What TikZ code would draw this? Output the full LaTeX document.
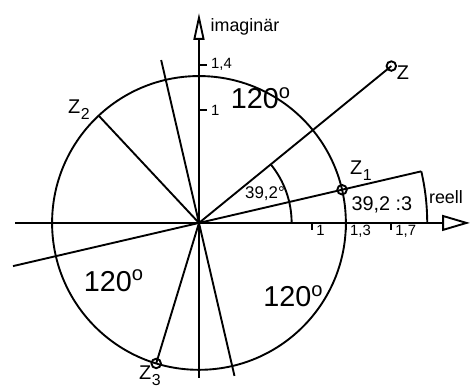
\documentclass[tikz,border=0pt]{standalone}
\usepackage{fontspec}
\setmainfont{Liberation Sans}
\usetikzlibrary{arrows.meta}
\newcommand{\zlab}[1]{Z\kern0.3pt\raisebox{-3pt}{\fontsize{8}{9}\selectfont #1}}
\begin{document}
\begin{tikzpicture}[x=2cm, y=2cm, line width=0.95pt, every node/.style={inner sep=0pt, font=\fontsize{10}{11}\selectfont},
    reachse/.style={-{Triangle[open, length=14pt, width=8pt, line width=0.95pt]}},
    imachse/.style={-{Triangle[open, length=13.5pt, width=5.5pt, line width=0.95pt]}},
    winkel/.style={font=\fontsize{14.5}{16}\selectfont},
    skala/.style={font=\fontsize{7.5}{8}\selectfont}]
        \useasboundingbox (-1.761,-1.460) rectangle (2.434,1.973);
        \coordinate (O) at (0,0);
        \coordinate (reL) at (-1.628,0);
        \coordinate (reR) at (2.398,0);
        \coordinate (imU) at (0,-1.372);
        \coordinate (imO) at (0,1.858);
        \coordinate (Z) at (39.2:2.197);
        \coordinate (z1) at (13.07:1.3);
        \coordinate (z2) at (133.07:1.3);
        \coordinate (z3) at (253.07:1.3);
        \coordinate (gL) at (193.07:1.69);
        \coordinate (gR) at (13.07:2.02);
        \coordinate (nO) at (103.07:1.48);
        \coordinate (nU) at (-76.93:1.39);
        \draw[reachse] (reL) -- (reR);
        \draw[imachse] (imU) -- (imO);
        \draw (O) circle (1.3);
        \draw (O) -- (Z);
        \draw (O) -- (z2);
        \draw (O) -- (z3);
        \draw (gL) -- (gR);
        \draw (nO) -- (nU);
        \draw (0.82,0) arc[start angle=0, end angle=39.2, radius=0.82];
        \draw (2.02,0) arc[start angle=0, end angle=13.07, radius=2.02];
        \foreach \p in {Z,z1,z3} \draw (\p) circle (2.4pt);
        \foreach \x/\t in {1/1,1.3/{1,3},1.7/{1,7}} {
            \draw (\x,0) -- (\x,-0.06);
            \node[skala, anchor=north west] (t\x) at (\x+0.03,-0.01) {\t};
        }
        \foreach \y/\t in {1/1,1.4/{1,4}} {
            \draw (0,\y) -- (0.07,\y);
            \node[skala, anchor=west] (i\y) at (0.1,\y) {\t};
        }
        \node[font=\fontsize{9}{10}\selectfont] (lim) at (0.407,1.735) {imaginär};
        \node[font=\fontsize{9}{10}\selectfont] (lre) at (2.186,0.230) {reell};
        \node[winkel] (w1) at (0.549,1.106) {120\textsuperscript{o}};
        \node[winkel] (w2) at (-0.752,-0.513) {120\textsuperscript{o}};
        \node[winkel] (w3) at (0.836,-0.646) {120\textsuperscript{o}};
        \node (lZ) at (1.805,1.327) {Z};
        \node (lz1) at (1.434,0.46) {\zlab{1}};
        \node (lz2) at (-1.062,1.0) {\zlab{2}};
        \node (lz3) at (-0.434,-1.35) {\zlab{3}};
        \node (lw) at (1.619,0.159) {39,2 :3};
        \node[font=\fontsize{8.5}{9}\selectfont] (lphi) at (0.584,0.257) {39,2°};
    \end{tikzpicture}
\end{document}
